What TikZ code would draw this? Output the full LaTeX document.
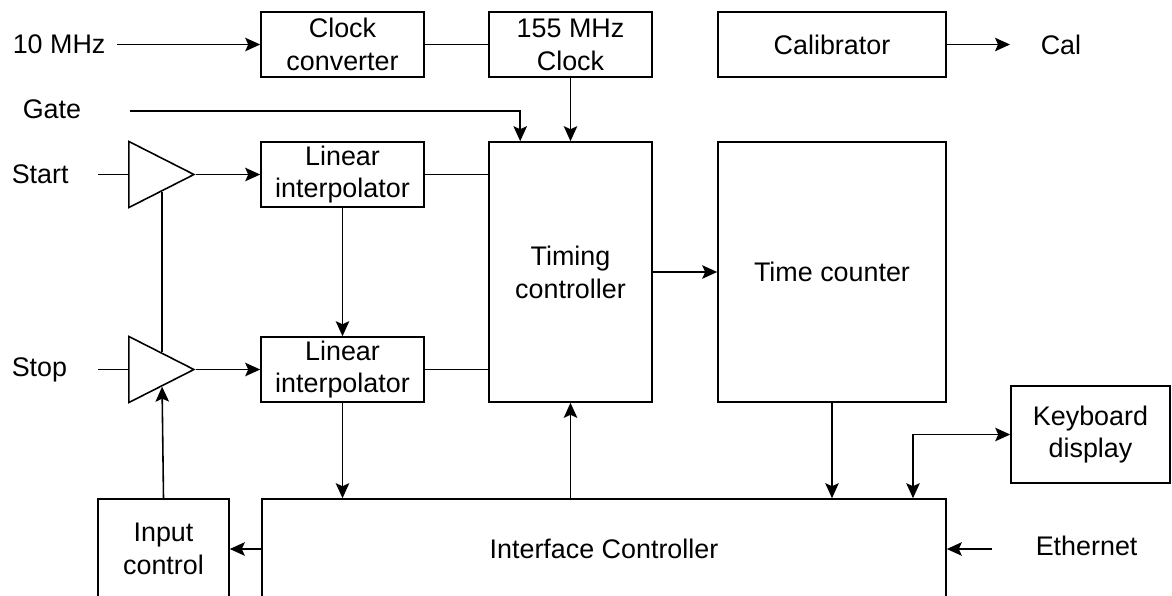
\documentclass[tikz,border=0pt]{standalone}
\usepackage{fontspec}
\setmainfont{Liberation Sans}
\usetikzlibrary{arrows.meta,shapes.geometric,calc}
\tikzset{
    %Define standard arrow tip
    >={Stealth[length=3mm,width=2.7mm,inset=0.6mm]},
    %Define style for boxes
    box/.style={
           rectangle,
           draw=black,
           line width=0.9pt,
           inner sep=0pt,
           align=center,
           font=\fontsize{15.3}{18.7}\selectfont},
    % Define style for the input amplifiers
    amp/.style={
           isosceles triangle,
           isosceles triangle stretches,
           shape border rotate=0,
           draw=black,
           line width=0.9pt,
           inner sep=0pt,
           minimum width=13.2mm,
           minimum height=13mm,
           anchor=apex},
    % Define style for signal names
    tag/.style={
           inner sep=0pt,
           anchor=west,
           font=\fontsize{15.3}{18.7}\selectfont}
}

\begin{document}
\begin{tikzpicture}[x=0.2mm,y=-0.2mm,line width=0.9pt]
\useasboundingbox (0,0) rectangle (1172,595);
\clip (0,0) rectangle (1172,595);
 %blocks
\node[box, minimum width=32.6mm, minimum height=13mm] (clkconv) at (342.5,44.5) {Clock\\converter};
\node[box, minimum width=32.6mm, minimum height=13mm] (clk155) at (570.5,44.5) {155 MHz\\Clock};
\node[box, minimum width=45.6mm, minimum height=13mm] (calib) at (832,44.5) {Calibrator};
\node[box, minimum width=32.6mm, minimum height=13mm] (interp1) at (342.5,174.5) {Linear\\interpolator};
\node[box, minimum width=32.6mm, minimum height=13mm] (interp2) at (342.5,369.5) {Linear\\interpolator};
\node[box, minimum width=32.6mm, minimum height=52mm] (timing) at (570.5,272) {Timing\\controller};
\node[box, minimum width=45.6mm, minimum height=52mm] (counter) at (832,272) {Time counter};
\node[box, minimum width=31.8mm, minimum height=19.4mm] (keyb) at (1090.5,434.5) {Keyboard\\display};
\node[box, minimum width=136.8mm, minimum height=20mm] (iface) at (604,549) {Interface Controller};
\node[box, minimum width=26.2mm, minimum height=20mm] (inputctl) at (163.5,549) {Input\\control};
\node[amp] (amp1) at (196,174.5) {};
\node[amp] (amp2) at (196,369.5) {};
 %signals
\node[tag] (tenmhz) at (12,44.5) {10 MHz};
\node[tag] (gate) at (22,109) {Gate};
\node[tag] (start) at (11,174.5) {Start};
\node[tag] (stop) at (11,369.5) {Stop};
\node[tag] (cal) at (1040,44.5) {Cal};
\node[tag] (ethernet) at (1035,546) {Ethernet};
\coordinate (tenin) at (117,44.5);
\coordinate (gatein) at (130,111);
\coordinate (startin) at (98,174.5);
\coordinate (stopin) at (98,369.5);
\coordinate (calout) at (1010,44.5);
\coordinate (ethin) at (992,549);
\coordinate (kbturn) at (913,434.5);
 %connections
\draw[->] (tenin) -- (clkconv);
\draw (clkconv) -- (clk155);
\draw[->] (calib) -- (calout);
\draw[->] (clk155) -- (timing);
\draw[->] (gatein) -| ([xshift=6.4mm]timing.north west);
\draw (startin) -- (amp1.west);
\draw (stopin) -- (amp2.west);
\draw[->] (amp1.apex) -- (interp1);
\draw[->] (amp2.apex) -- (interp2);
\draw ($(amp1.apex)!0.5!(amp1.right corner)$) -- ($(amp2.apex)!0.5!(amp2.left corner)$);
\draw[->] (inputctl.north) -- ($(amp2.apex)!0.5!(amp2.right corner)$);
\draw[->] (interp1) -- (interp2);
\draw (interp1.east) -- (interp1.east -| timing.west);
\draw (interp2.east) -- (interp2.east -| timing.west);
\draw[->] (interp2.south) -- (interp2.south |- iface.north);
\draw[->] (timing) -- (counter);
\draw[->] (timing.south |- iface.north) -- (timing.south);
\draw[->] (counter.south) -- (counter.south |- iface.north);
\draw[<->] (keyb.west) -- (kbturn) -- (kbturn |- iface.north);
\draw[->] (iface) -- (inputctl);
\draw[->] (ethin) -- (ethin -| iface.east);
\end{tikzpicture}
\end{document}
